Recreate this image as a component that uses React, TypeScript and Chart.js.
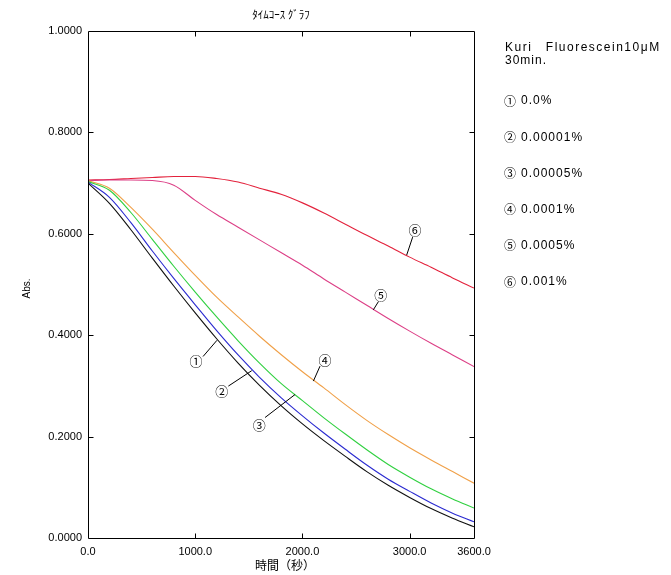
import React, { useEffect, useRef } from "react";
import { Chart, registerables } from "chart.js";

Chart.register(...registerables);

// ---- data ----
const times = [0, 200, 400, 600, 800, 1000, 1200, 1400, 1600, 1800, 2000, 2200, 2400, 2600, 2800, 3000, 3200, 3400, 3600];
const abs1 = [0.700, 0.660, 0.608, 0.552, 0.497, 0.444, 0.393, 0.345, 0.301, 0.261, 0.225, 0.192, 0.161, 0.131, 0.104, 0.080, 0.058, 0.039, 0.022];
const abs2 = [0.702, 0.672, 0.622, 0.566, 0.512, 0.460, 0.409, 0.361, 0.317, 0.277, 0.241, 0.207, 0.175, 0.144, 0.116, 0.092, 0.069, 0.049, 0.032];
const abs3 = [0.703, 0.686, 0.642, 0.589, 0.536, 0.485, 0.436, 0.389, 0.345, 0.305, 0.271, 0.237, 0.205, 0.174, 0.145, 0.120, 0.097, 0.077, 0.059];
const abs4 = [0.705, 0.690, 0.652, 0.609, 0.563, 0.518, 0.475, 0.436, 0.398, 0.362, 0.328, 0.296, 0.263, 0.232, 0.204, 0.178, 0.154, 0.131, 0.108];
const abs5 = [0.705, 0.706, 0.706, 0.705, 0.696, 0.666, 0.638, 0.613, 0.588, 0.563, 0.538, 0.511, 0.485, 0.459, 0.433, 0.408, 0.384, 0.361, 0.338];
const abs6 = [0.706, 0.707, 0.709, 0.711, 0.713, 0.713, 0.709, 0.702, 0.690, 0.678, 0.661, 0.641, 0.619, 0.597, 0.576, 0.554, 0.534, 0.513, 0.493];

const seriesMarks = ["①", "②", "③", "④", "⑤", "⑥"];
const seriesNames = ["0.0%", "0.00001%", "0.00005%", "0.0001%", "0.0005%", "0.001%"];
const seriesValues = [abs1, abs2, abs3, abs4, abs5, abs6];
const seriesColors = ["#101010", "#2a2ad0", "#30d040", "#f0a048", "#dc3f86", "#e3223c"];

const xTickValues = [0, 1000, 2000, 3000, 3600];
const yTickValues = [0, 0.2, 0.4, 0.6, 0.8, 1.0];
const chartTitle = "ﾀｲﾑｺｰｽ ｸﾞﾗﾌ";
const xTitle = "時間（秒）";
const yTitle = "Abs.";
const legendHeader = ["Kuri　Fluorescein10μM", "30min."];

// curve label callouts: [mark index, label (t,v), leader start (t,v), leader end (t,v)]
const callouts: [number, number, number, number, number, number, number][] = [
  [0, 1007, 0.3485, 1073, 0.358, 1203, 0.390],
  [1, 1247, 0.2897, 1309, 0.2996, 1527, 0.330],
  [2, 1598, 0.2218, 1651, 0.2376, 1931, 0.283],
  [3, 2210, 0.351, 2164, 0.339, 2102, 0.3095],
  [4, 2730, 0.479, 2708, 0.466, 2661, 0.450],
  [5, 3050, 0.6065, 3028, 0.5935, 2972, 0.558],
];

const decorPlugin = {
  id: "decor",
  afterDraw(chart: any) {
    const { ctx, chartArea: a, scales } = chart;
    const xs = scales.x;
    const ys = scales.y;
    ctx.save();
    ctx.strokeStyle = "#000";
    ctx.lineWidth = 1;
    const L = Math.round(a.left) + 0.5;
    const R = Math.round(a.right) + 0.5;
    const T = Math.round(a.top) + 0.5;
    const B = Math.round(a.bottom) + 0.5;
    ctx.beginPath();
    ctx.rect(L, T, R - L, B - T);
    ctx.stroke();
    const tl = 5;
    ctx.beginPath();
    xTickValues.forEach((v) => {
      if (v === 0 || v === 3600) return;
      const px = Math.round(xs.getPixelForValue(v)) + 0.5;
      ctx.moveTo(px, B);
      ctx.lineTo(px, B - tl);
      ctx.moveTo(px, T);
      ctx.lineTo(px, T + tl);
    });
    yTickValues.forEach((v) => {
      if (v === 0 || v === 1) return;
      const py = Math.round(ys.getPixelForValue(v)) + 0.5;
      ctx.moveTo(L, py);
      ctx.lineTo(L + tl, py);
      ctx.moveTo(R, py);
      ctx.lineTo(R - tl, py);
    });
    ctx.stroke();

    // callouts
    ctx.strokeStyle = "#000";
    ctx.beginPath();
    callouts.forEach((c) => {
      ctx.moveTo(xs.getPixelForValue(c[3]), ys.getPixelForValue(c[4]));
      ctx.lineTo(xs.getPixelForValue(c[5]), ys.getPixelForValue(c[6]));
    });
    ctx.stroke();
    ctx.fillStyle = "#000";
    ctx.font = "13px 'Noto Sans CJK JP'";
    ctx.textAlign = "center";
    ctx.textBaseline = "middle";
    callouts.forEach((c) => {
      ctx.fillText(seriesMarks[c[0]], xs.getPixelForValue(c[1]), ys.getPixelForValue(c[2]));
    });

    // title
    ctx.font = "11px 'Noto Sans CJK JP'";
    ctx.textAlign = "center";
    ctx.textBaseline = "middle";
    ctx.fillText(chartTitle, (a.left + a.right) / 2, 15);

    // x title
    ctx.font = "12px 'Noto Sans CJK JP'";
    ctx.fillText(xTitle, (a.left + a.right) / 2 + 4, 565);

    // y title
    ctx.save();
    ctx.translate(27, (a.top + a.bottom) / 2 + 4);
    ctx.rotate(-Math.PI / 2);
    ctx.font = "10px 'Liberation Sans'";
    ctx.fillText(yTitle, 0, 0);
    ctx.restore();

    // legend text
    ctx.textAlign = "left";
    ctx.textBaseline = "middle";
    (ctx as any).letterSpacing = "1.5px";
    ctx.font = "12px 'Liberation Sans', 'Noto Sans CJK JP'";
    ctx.fillText(legendHeader[0], 505, 48);
    (ctx as any).letterSpacing = "1px";
    ctx.fillText(legendHeader[1], 505, 61);
    seriesNames.forEach((name, i) => {
      const yy = 101 + i * 36.2;
      (ctx as any).letterSpacing = "0px";
      ctx.font = "12px 'Noto Sans CJK JP'";
      ctx.fillText(seriesMarks[i], 504, yy);
      (ctx as any).letterSpacing = "1px";
      ctx.font = "12px 'Liberation Sans'";
      ctx.fillText(name, 521, yy);
    });
    (ctx as any).letterSpacing = "0px";
    ctx.restore();
  },
};

export default function App() {
  const ref = useRef<HTMLCanvasElement | null>(null);
  useEffect(() => {
    if (!ref.current) return;
    const tickFont = { family: "'Liberation Sans', Arial, sans-serif", size: 11 };
    const chart = new Chart(ref.current, {
      type: "line",
      data: {
        datasets: seriesValues.map((vals, i) => ({
          label: seriesMarks[i] + " " + seriesNames[i],
          data: times.map((t, j) => ({ x: t, y: vals[j] })),
          borderColor: seriesColors[i],
          backgroundColor: seriesColors[i],
          borderWidth: 1.1,
          pointRadius: 0,
          fill: false,
          tension: 0.4,
          cubicInterpolationMode: "monotone" as const,
        })),
      },
      options: {
        animation: false,
        responsive: false,
        maintainAspectRatio: false,
        layout: { padding: { left: 0, right: 197, top: 31, bottom: 0 } },
        plugins: {
          legend: { display: false },
          title: { display: false },
          tooltip: { enabled: false },
        },
        scales: {
          x: {
            type: "linear",
            min: 0,
            max: 3600,
            afterBuildTicks: (s: any) => {
              s.ticks = xTickValues.map((v) => ({ value: v }));
            },
            afterFit: (s: any) => {
              s.height = 37;
            },
            grid: { display: false, drawTicks: false },
            border: { display: false },
            ticks: {
              padding: 7,
              maxRotation: 0,
              autoSkip: false,
              color: "#000",
              font: tickFont,
              callback: (v: any) => Number(v).toFixed(1),
            },
          },
          y: {
            type: "linear",
            min: 0,
            max: 1,
            afterBuildTicks: (s: any) => {
              s.ticks = yTickValues.map((v) => ({ value: v }));
            },
            afterFit: (s: any) => {
              s.width = 88;
            },
            grid: { display: false, drawTicks: false },
            border: { display: false },
            ticks: {
              padding: 6,
              color: "#000",
              font: tickFont,
              callback: (v: any) => Number(v).toFixed(4),
            },
          },
        },
      },
      plugins: [decorPlugin],
    } as any);
    return () => chart.destroy();
  }, []);
  return (
    <div style={{ position: "fixed", left: 0, top: 0, width: 671, height: 575, background: "#fff" }}>
      <canvas ref={ref} width={671} height={575} style={{ width: 671, height: 575, display: "block" }} />
    </div>
  );
}
